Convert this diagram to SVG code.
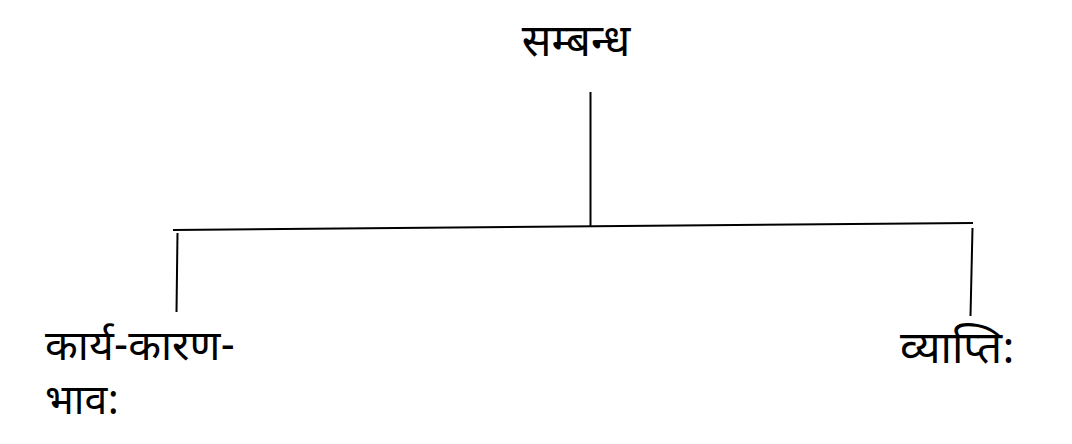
<svg xmlns="http://www.w3.org/2000/svg" width="1072" height="444" viewBox="0 0 1072 444">
<style>
.lbl{font-family:"Noto Sans Devanagari","Noto Sans","Noto Sans CJK SC",sans-serif;font-size:44px;font-weight:normal;fill:#000}
.sm{font-size:41px}
.ln{stroke:#000;stroke-width:2;fill:none;stroke-linecap:butt}
</style>
<rect width="1072" height="444" fill="#fff"/>
<g id="connectors">
<line class="ln" x1="590.5" y1="92" x2="590.5" y2="227"/>
<line class="ln" x1="173" y1="230" x2="973" y2="223"/>
<line class="ln" x1="177.5" y1="233" x2="176.5" y2="312"/>
<line class="ln" x1="972.5" y1="228" x2="970.5" y2="316"/>
</g>
<g id="node-root"><text class="lbl" x="576" y="56" text-anchor="middle">सम्बन्ध</text></g>
<g id="node-left"><text class="lbl sm" x="45" y="360" textLength="190" lengthAdjust="spacingAndGlyphs">कार्य-कारण-</text><text class="lbl sm" x="45" y="414">भाव:</text></g>
<g id="node-right"><text class="lbl" x="900" y="363">व्याप्ति:</text></g>
</svg>
